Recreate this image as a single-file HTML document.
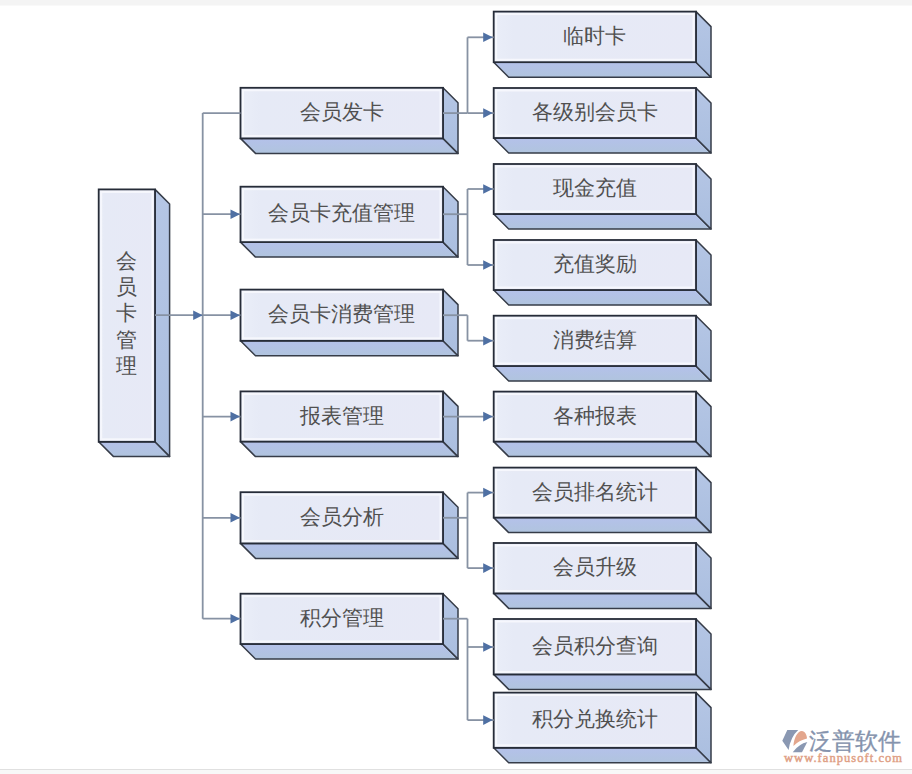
<!DOCTYPE html>
<html><head><meta charset="utf-8"><style>
html,body{margin:0;padding:0;width:912px;height:774px;overflow:hidden;background:#fff;}
</style></head><body>
<svg width="912" height="774" viewBox="0 0 912 774" style="position:absolute;left:0;top:0">
<defs>
<linearGradient id="gf" x1="0" y1="0" x2="1" y2="0"><stop offset="0" stop-color="#eaeef8"/><stop offset="0.1" stop-color="#e6eaf6"/><stop offset="1" stop-color="#e7e9f6"/></linearGradient>
<linearGradient id="gs" x1="0" y1="0" x2="0" y2="1"><stop offset="0" stop-color="#b5c6e5"/><stop offset="1" stop-color="#aabedf"/></linearGradient>
<linearGradient id="gb" x1="0" y1="0" x2="0" y2="1"><stop offset="0" stop-color="#b4c1ea"/><stop offset="1" stop-color="#b0c4de"/></linearGradient>
</defs>
<rect x="0" y="0" width="912" height="774" fill="#ffffff"/>
<rect x="0" y="0" width="912" height="5.5" fill="#f4f4f4"/>
<rect x="0" y="769" width="912" height="1" fill="#e0e0e0"/>
<rect x="0" y="770" width="912" height="4" fill="#f8f8f8"/>
<polygon points="98.7,441.8 155.0,441.8 169.6,456.40000000000003 113.3,456.40000000000003" fill="url(#gb)" stroke="#363c48" stroke-width="1.5" stroke-linejoin="round"/>
<polygon points="155.0,189.4 169.6,204.0 169.6,456.40000000000003 155.0,441.8" fill="url(#gs)" stroke="#363c48" stroke-width="1.5" stroke-linejoin="round"/>
<rect x="98.7" y="189.4" width="56.3" height="252.4" fill="url(#gf)" stroke="#262c38" stroke-width="1.8"/>
<rect x="101.2" y="191.9" width="51.3" height="247.4" fill="none" stroke="#f8f9fe" stroke-opacity="0.85" stroke-width="2"/>
<polygon points="240.5,138.4 443,138.4 458,153.4 255.5,153.4" fill="url(#gb)" stroke="#363c48" stroke-width="1.5" stroke-linejoin="round"/>
<polygon points="443,87.8 458,102.8 458,153.4 443,138.4" fill="url(#gs)" stroke="#363c48" stroke-width="1.5" stroke-linejoin="round"/>
<rect x="240.5" y="87.8" width="202.5" height="50.60000000000001" fill="url(#gf)" stroke="#262c38" stroke-width="1.8"/>
<rect x="243.0" y="90.3" width="197.5" height="45.60000000000001" fill="none" stroke="#f8f9fe" stroke-opacity="0.85" stroke-width="2"/>
<polygon points="240.5,242.1 443,242.1 458,257.1 255.5,257.1" fill="url(#gb)" stroke="#363c48" stroke-width="1.5" stroke-linejoin="round"/>
<polygon points="443,186.7 458,201.7 458,257.1 443,242.1" fill="url(#gs)" stroke="#363c48" stroke-width="1.5" stroke-linejoin="round"/>
<rect x="240.5" y="186.7" width="202.5" height="55.400000000000006" fill="url(#gf)" stroke="#262c38" stroke-width="1.8"/>
<rect x="243.0" y="189.2" width="197.5" height="50.400000000000006" fill="none" stroke="#f8f9fe" stroke-opacity="0.85" stroke-width="2"/>
<polygon points="240.5,340.8 443,340.8 458,355.8 255.5,355.8" fill="url(#gb)" stroke="#363c48" stroke-width="1.5" stroke-linejoin="round"/>
<polygon points="443,289.6 458,304.6 458,355.8 443,340.8" fill="url(#gs)" stroke="#363c48" stroke-width="1.5" stroke-linejoin="round"/>
<rect x="240.5" y="289.6" width="202.5" height="51.19999999999999" fill="url(#gf)" stroke="#262c38" stroke-width="1.8"/>
<rect x="243.0" y="292.1" width="197.5" height="46.19999999999999" fill="none" stroke="#f8f9fe" stroke-opacity="0.85" stroke-width="2"/>
<polygon points="240.5,441.6 443,441.6 458,456.6 255.5,456.6" fill="url(#gb)" stroke="#363c48" stroke-width="1.5" stroke-linejoin="round"/>
<polygon points="443,391.4 458,406.4 458,456.6 443,441.6" fill="url(#gs)" stroke="#363c48" stroke-width="1.5" stroke-linejoin="round"/>
<rect x="240.5" y="391.4" width="202.5" height="50.200000000000045" fill="url(#gf)" stroke="#262c38" stroke-width="1.8"/>
<rect x="243.0" y="393.9" width="197.5" height="45.200000000000045" fill="none" stroke="#f8f9fe" stroke-opacity="0.85" stroke-width="2"/>
<polygon points="240.5,543.4 443,543.4 458,558.4 255.5,558.4" fill="url(#gb)" stroke="#363c48" stroke-width="1.5" stroke-linejoin="round"/>
<polygon points="443,492.2 458,507.2 458,558.4 443,543.4" fill="url(#gs)" stroke="#363c48" stroke-width="1.5" stroke-linejoin="round"/>
<rect x="240.5" y="492.2" width="202.5" height="51.19999999999999" fill="url(#gf)" stroke="#262c38" stroke-width="1.8"/>
<rect x="243.0" y="494.7" width="197.5" height="46.19999999999999" fill="none" stroke="#f8f9fe" stroke-opacity="0.85" stroke-width="2"/>
<polygon points="240.5,644.0 443,644.0 458,659.0 255.5,659.0" fill="url(#gb)" stroke="#363c48" stroke-width="1.5" stroke-linejoin="round"/>
<polygon points="443,593.7 458,608.7 458,659.0 443,644.0" fill="url(#gs)" stroke="#363c48" stroke-width="1.5" stroke-linejoin="round"/>
<rect x="240.5" y="593.7" width="202.5" height="50.299999999999955" fill="url(#gf)" stroke="#262c38" stroke-width="1.8"/>
<rect x="243.0" y="596.2" width="197.5" height="45.299999999999955" fill="none" stroke="#f8f9fe" stroke-opacity="0.85" stroke-width="2"/>
<polygon points="493.7,62.2 696,62.2 711,77.2 508.7,77.2" fill="url(#gb)" stroke="#363c48" stroke-width="1.5" stroke-linejoin="round"/>
<polygon points="696,11.6 711,26.6 711,77.2 696,62.2" fill="url(#gs)" stroke="#363c48" stroke-width="1.5" stroke-linejoin="round"/>
<rect x="493.7" y="11.6" width="202.3" height="50.6" fill="url(#gf)" stroke="#262c38" stroke-width="1.8"/>
<rect x="496.2" y="14.1" width="197.3" height="45.6" fill="none" stroke="#f8f9fe" stroke-opacity="0.85" stroke-width="2"/>
<polygon points="493.7,138.0 696,138.0 711,153.0 508.7,153.0" fill="url(#gb)" stroke="#363c48" stroke-width="1.5" stroke-linejoin="round"/>
<polygon points="696,88.0 711,103.0 711,153.0 696,138.0" fill="url(#gs)" stroke="#363c48" stroke-width="1.5" stroke-linejoin="round"/>
<rect x="493.7" y="88.0" width="202.3" height="50.0" fill="url(#gf)" stroke="#262c38" stroke-width="1.8"/>
<rect x="496.2" y="90.5" width="197.3" height="45.0" fill="none" stroke="#f8f9fe" stroke-opacity="0.85" stroke-width="2"/>
<polygon points="493.7,214.0 696,214.0 711,229.0 508.7,229.0" fill="url(#gb)" stroke="#363c48" stroke-width="1.5" stroke-linejoin="round"/>
<polygon points="696,164.0 711,179.0 711,229.0 696,214.0" fill="url(#gs)" stroke="#363c48" stroke-width="1.5" stroke-linejoin="round"/>
<rect x="493.7" y="164.0" width="202.3" height="50.0" fill="url(#gf)" stroke="#262c38" stroke-width="1.8"/>
<rect x="496.2" y="166.5" width="197.3" height="45.0" fill="none" stroke="#f8f9fe" stroke-opacity="0.85" stroke-width="2"/>
<polygon points="493.7,290.0 696,290.0 711,305.0 508.7,305.0" fill="url(#gb)" stroke="#363c48" stroke-width="1.5" stroke-linejoin="round"/>
<polygon points="696,240.0 711,255.0 711,305.0 696,290.0" fill="url(#gs)" stroke="#363c48" stroke-width="1.5" stroke-linejoin="round"/>
<rect x="493.7" y="240.0" width="202.3" height="50.0" fill="url(#gf)" stroke="#262c38" stroke-width="1.8"/>
<rect x="496.2" y="242.5" width="197.3" height="45.0" fill="none" stroke="#f8f9fe" stroke-opacity="0.85" stroke-width="2"/>
<polygon points="493.7,366.0 696,366.0 711,381.0 508.7,381.0" fill="url(#gb)" stroke="#363c48" stroke-width="1.5" stroke-linejoin="round"/>
<polygon points="696,315.7 711,330.7 711,381.0 696,366.0" fill="url(#gs)" stroke="#363c48" stroke-width="1.5" stroke-linejoin="round"/>
<rect x="493.7" y="315.7" width="202.3" height="50.30000000000001" fill="url(#gf)" stroke="#262c38" stroke-width="1.8"/>
<rect x="496.2" y="318.2" width="197.3" height="45.30000000000001" fill="none" stroke="#f8f9fe" stroke-opacity="0.85" stroke-width="2"/>
<polygon points="493.7,441.6 696,441.6 711,456.6 508.7,456.6" fill="url(#gb)" stroke="#363c48" stroke-width="1.5" stroke-linejoin="round"/>
<polygon points="696,391.6 711,406.6 711,456.6 696,441.6" fill="url(#gs)" stroke="#363c48" stroke-width="1.5" stroke-linejoin="round"/>
<rect x="493.7" y="391.6" width="202.3" height="50.0" fill="url(#gf)" stroke="#262c38" stroke-width="1.8"/>
<rect x="496.2" y="394.1" width="197.3" height="45.0" fill="none" stroke="#f8f9fe" stroke-opacity="0.85" stroke-width="2"/>
<polygon points="493.7,517.6 696,517.6 711,532.6 508.7,532.6" fill="url(#gb)" stroke="#363c48" stroke-width="1.5" stroke-linejoin="round"/>
<polygon points="696,467.6 711,482.6 711,532.6 696,517.6" fill="url(#gs)" stroke="#363c48" stroke-width="1.5" stroke-linejoin="round"/>
<rect x="493.7" y="467.6" width="202.3" height="50.0" fill="url(#gf)" stroke="#262c38" stroke-width="1.8"/>
<rect x="496.2" y="470.1" width="197.3" height="45.0" fill="none" stroke="#f8f9fe" stroke-opacity="0.85" stroke-width="2"/>
<polygon points="493.7,593.4 696,593.4 711,608.4 508.7,608.4" fill="url(#gb)" stroke="#363c48" stroke-width="1.5" stroke-linejoin="round"/>
<polygon points="696,543.0 711,558.0 711,608.4 696,593.4" fill="url(#gs)" stroke="#363c48" stroke-width="1.5" stroke-linejoin="round"/>
<rect x="493.7" y="543.0" width="202.3" height="50.39999999999998" fill="url(#gf)" stroke="#262c38" stroke-width="1.8"/>
<rect x="496.2" y="545.5" width="197.3" height="45.39999999999998" fill="none" stroke="#f8f9fe" stroke-opacity="0.85" stroke-width="2"/>
<polygon points="493.7,674.4 696,674.4 711,689.4 508.7,689.4" fill="url(#gb)" stroke="#363c48" stroke-width="1.5" stroke-linejoin="round"/>
<polygon points="696,619.0 711,634.0 711,689.4 696,674.4" fill="url(#gs)" stroke="#363c48" stroke-width="1.5" stroke-linejoin="round"/>
<rect x="493.7" y="619.0" width="202.3" height="55.39999999999998" fill="url(#gf)" stroke="#262c38" stroke-width="1.8"/>
<rect x="496.2" y="621.5" width="197.3" height="50.39999999999998" fill="none" stroke="#f8f9fe" stroke-opacity="0.85" stroke-width="2"/>
<polygon points="493.7,747.8 696,747.8 711,762.8 508.7,762.8" fill="url(#gb)" stroke="#363c48" stroke-width="1.5" stroke-linejoin="round"/>
<polygon points="696,692.6 711,707.6 711,762.8 696,747.8" fill="url(#gs)" stroke="#363c48" stroke-width="1.5" stroke-linejoin="round"/>
<rect x="493.7" y="692.6" width="202.3" height="55.19999999999993" fill="url(#gf)" stroke="#262c38" stroke-width="1.8"/>
<rect x="496.2" y="695.1" width="197.3" height="50.19999999999993" fill="none" stroke="#f8f9fe" stroke-opacity="0.85" stroke-width="2"/>
<g stroke="#8792a3" stroke-width="1.8" fill="none">
<line x1="202.7" y1="113.1" x2="202.7" y2="618.7"/>
<line x1="155" y1="315.2" x2="202.7" y2="315.2"/>
<line x1="202.7" y1="113.1" x2="240.5" y2="113.1"/>
<line x1="202.7" y1="214.2" x2="240.5" y2="214.2"/>
<line x1="202.7" y1="315.2" x2="240.5" y2="315.2"/>
<line x1="202.7" y1="416.6" x2="240.5" y2="416.6"/>
<line x1="202.7" y1="517.8" x2="240.5" y2="517.8"/>
<line x1="202.7" y1="618.7" x2="240.5" y2="618.7"/>
<line x1="443" y1="113.1" x2="467.5" y2="113.1"/>
<line x1="467.5" y1="37.3" x2="467.5" y2="113.1"/>
<line x1="467.5" y1="37.3" x2="493.7" y2="37.3"/>
<line x1="467.5" y1="113.1" x2="493.7" y2="113.1"/>
<line x1="443" y1="214.2" x2="467.5" y2="214.2"/>
<line x1="467.5" y1="189.0" x2="467.5" y2="265.0"/>
<line x1="467.5" y1="189.0" x2="493.7" y2="189.0"/>
<line x1="467.5" y1="265.0" x2="493.7" y2="265.0"/>
<line x1="443" y1="315.2" x2="467.5" y2="315.2"/>
<line x1="467.5" y1="315.2" x2="467.5" y2="340.7"/>
<line x1="467.5" y1="340.7" x2="493.7" y2="340.7"/>
<line x1="443" y1="416.6" x2="493.7" y2="416.6"/>
<line x1="443" y1="517.8" x2="467.5" y2="517.8"/>
<line x1="467.5" y1="492.6" x2="467.5" y2="568.1"/>
<line x1="467.5" y1="492.6" x2="493.7" y2="492.6"/>
<line x1="467.5" y1="568.1" x2="493.7" y2="568.1"/>
<line x1="443" y1="618.7" x2="467.5" y2="618.7"/>
<line x1="467.5" y1="618.7" x2="467.5" y2="720.1"/>
<line x1="467.5" y1="647.0" x2="493.7" y2="647.0"/>
<line x1="467.5" y1="720.1" x2="493.7" y2="720.1"/>
</g>
<polygon points="202.7,315.2 193.2,310.4 193.2,320.0" fill="#4f70a3"/>
<polygon points="240.0,214.2 230.5,209.39999999999998 230.5,219.0" fill="#4f70a3"/>
<polygon points="240.0,315.2 230.5,310.4 230.5,320.0" fill="#4f70a3"/>
<polygon points="240.0,416.6 230.5,411.8 230.5,421.40000000000003" fill="#4f70a3"/>
<polygon points="240.0,517.8 230.5,513.0 230.5,522.5999999999999" fill="#4f70a3"/>
<polygon points="240.0,618.7 230.5,613.9000000000001 230.5,623.5" fill="#4f70a3"/>
<polygon points="492.7,37.3 483.2,32.5 483.2,42.099999999999994" fill="#4f70a3"/>
<polygon points="492.7,113.1 483.2,108.3 483.2,117.89999999999999" fill="#4f70a3"/>
<polygon points="492.7,189.0 483.2,184.2 483.2,193.8" fill="#4f70a3"/>
<polygon points="492.7,265.0 483.2,260.2 483.2,269.8" fill="#4f70a3"/>
<polygon points="492.7,340.7 483.2,335.9 483.2,345.5" fill="#4f70a3"/>
<polygon points="492.7,416.6 483.2,411.8 483.2,421.40000000000003" fill="#4f70a3"/>
<polygon points="492.7,492.6 483.2,487.8 483.2,497.40000000000003" fill="#4f70a3"/>
<polygon points="492.7,568.1 483.2,563.3000000000001 483.2,572.9" fill="#4f70a3"/>
<polygon points="492.7,647.0 483.2,642.2 483.2,651.8" fill="#4f70a3"/>
<polygon points="492.7,720.1 483.2,715.3000000000001 483.2,724.9" fill="#4f70a3"/>
<g font-family="'Liberation Serif', serif">
<text x="341.75" y="112.1" font-size="21" text-anchor="middle" dominant-baseline="central" fill="#505050">会员发卡</text>
<text x="341.75" y="213.39999999999998" font-size="21" text-anchor="middle" dominant-baseline="central" fill="#505050">会员卡充值管理</text>
<text x="341.75" y="314.20000000000005" font-size="21" text-anchor="middle" dominant-baseline="central" fill="#505050">会员卡消费管理</text>
<text x="341.75" y="415.5" font-size="21" text-anchor="middle" dominant-baseline="central" fill="#505050">报表管理</text>
<text x="341.75" y="516.8" font-size="21" text-anchor="middle" dominant-baseline="central" fill="#505050">会员分析</text>
<text x="341.75" y="617.85" font-size="21" text-anchor="middle" dominant-baseline="central" fill="#505050">积分管理</text>
<text x="594.85" y="35.9" font-size="21" text-anchor="middle" dominant-baseline="central" fill="#505050">临时卡</text>
<text x="594.85" y="112.0" font-size="21" text-anchor="middle" dominant-baseline="central" fill="#505050">各级别会员卡</text>
<text x="594.85" y="188.0" font-size="21" text-anchor="middle" dominant-baseline="central" fill="#505050">现金充值</text>
<text x="594.85" y="264.0" font-size="21" text-anchor="middle" dominant-baseline="central" fill="#505050">充值奖励</text>
<text x="594.85" y="339.85" font-size="21" text-anchor="middle" dominant-baseline="central" fill="#505050">消费结算</text>
<text x="594.85" y="415.6" font-size="21" text-anchor="middle" dominant-baseline="central" fill="#505050">各种报表</text>
<text x="594.85" y="491.6" font-size="21" text-anchor="middle" dominant-baseline="central" fill="#505050">会员排名统计</text>
<text x="594.85" y="567.2" font-size="21" text-anchor="middle" dominant-baseline="central" fill="#505050">会员升级</text>
<text x="594.85" y="645.7" font-size="21" text-anchor="middle" dominant-baseline="central" fill="#505050">会员积分查询</text>
<text x="594.85" y="719.2" font-size="21" text-anchor="middle" dominant-baseline="central" fill="#505050">积分兑换统计</text>
<text x="126.2" y="261.0" font-size="21" text-anchor="middle" dominant-baseline="central" fill="#505050">会</text>
<text x="126.2" y="287.2" font-size="21" text-anchor="middle" dominant-baseline="central" fill="#505050">员</text>
<text x="126.2" y="313.4" font-size="21" text-anchor="middle" dominant-baseline="central" fill="#505050">卡</text>
<text x="126.2" y="339.6" font-size="21" text-anchor="middle" dominant-baseline="central" fill="#505050">管</text>
<text x="126.2" y="365.8" font-size="21" text-anchor="middle" dominant-baseline="central" fill="#505050">理</text>
</g>
<!-- logo -->
<g fill="#8a98b2">
<path d="M787.3,730.1 L798.2,730.1 Q790.5,737 788.6,750 L782.3,740.8 Z"/>
<path d="M792.7,752.2 L802,752.2 L807.3,742.1 Q799,744 792.7,752.2 Z"/>
</g>
<path d="M793.4,746 C794,738 797.5,731.2 801.8,731 C805,731.3 807,735 807,738.6 Q799,740.5 793.4,746 Z" fill="#e3a68d"/>
<text x="809" y="749" font-family="'Liberation Sans', sans-serif" font-size="23" fill="#8593ad" stroke="#8593ad" stroke-width="0.35">泛普软件</text>
<text x="784" y="761.6" font-family="'Liberation Serif', serif" font-size="12.5" fill="#df9f85" stroke="#df9f85" stroke-width="0.45" letter-spacing="1.05">www.fanpusoft.com</text>
</svg>
</body></html>
